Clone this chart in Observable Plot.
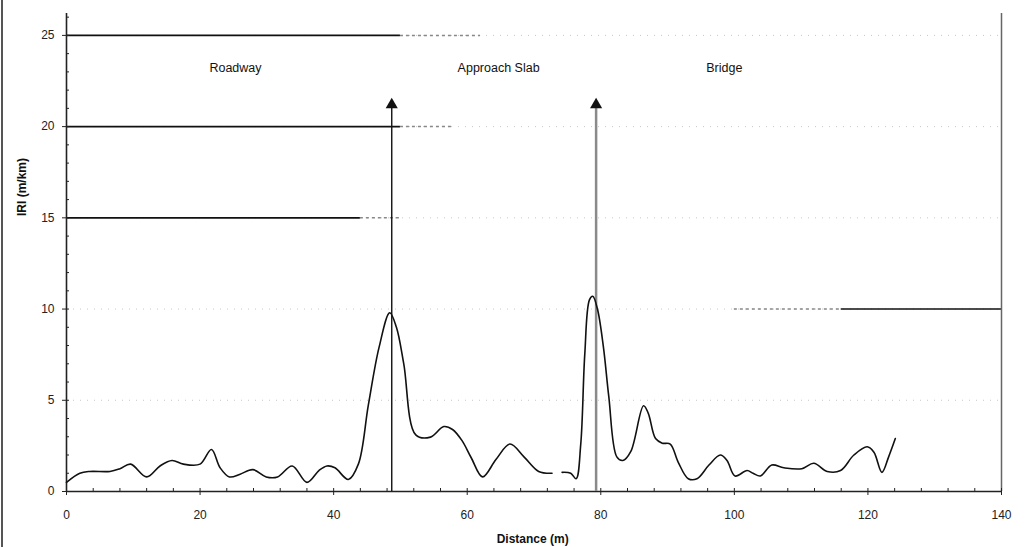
<!DOCTYPE html>
<html>
<head>
<meta charset="utf-8">
<script src="https://cdn.jsdelivr.net/npm/d3@7"></script>
<script src="https://cdn.jsdelivr.net/npm/@observablehq/plot@0.6"></script>
<style>
  body { margin: 0; background: #fff; }
  #wrap { position: relative; width: 1034px; height: 547px; }
  #edge { position: absolute; left: 1px; top: 0; width: 2px; height: 547px; background: #555; }
  svg { font-family: "Liberation Sans", Arial, sans-serif; }
</style>
</head>
<body>
<div id="wrap"><div id="edge"></div></div>
<script>
// Curve: distance (m) and IRI (m/km), two separate runs (gap near 73 m)
const dist1 = [0, 2, 3.5, 6.5, 8, 9.6, 12, 14, 15.8, 17.5, 20, 21.7, 23, 24.4, 26, 27.9, 29.9, 31.6, 33.8, 36, 37.8, 39, 40.2, 42.2, 43.7, 45.2, 46.8, 48.4, 49.4, 50.5, 52.3, 54.5, 56.5, 57.8, 59.2, 60.6, 62.3, 64.3, 66.4, 68.5, 70.7, 72.7];
const iri1  = [0.5, 1.0, 1.1, 1.1, 1.25, 1.5, 0.8, 1.4, 1.7, 1.5, 1.5, 2.3, 1.3, 0.8, 0.95, 1.2, 0.8, 0.8, 1.4, 0.5, 1.15, 1.4, 1.3, 0.66, 1.5, 4.75, 7.9, 9.8, 9.0, 7.0, 3.1, 2.98, 3.56, 3.4, 2.8, 1.85, 0.8, 1.75, 2.6, 1.9, 1.1, 1.0];
const dist2 = [74.2, 75.5, 76.3, 77.0, 77.6, 78.3, 78.8, 79.5, 80.4, 81.2, 82.4, 83.3, 84.5, 86.4, 87.1, 88.2, 89.2, 90.4, 91.6, 93.1, 94.4, 96.2, 97.9, 98.9, 100.1, 101.9, 102.8, 103.9, 105.6, 107.4, 110.1, 111.9, 113.9, 115.9, 117.9, 119.9, 120.9, 122.1, 123.1, 124.1];
const iri2  = [1.05, 1.0, 0.7, 2.6, 7.5, 10.5, 10.7, 10.0, 7.9, 5.2, 1.9, 1.7, 2.2, 4.7, 4.3, 2.9, 2.65, 2.6, 1.6, 0.7, 0.7, 1.45, 2.0, 1.7, 0.85, 1.15, 1.0, 0.85, 1.45, 1.3, 1.25, 1.55, 1.1, 1.15, 2.0, 2.45, 2.15, 1.05, 1.9, 2.9];

// Section labels
const sectionNames = ["Roadway", "Approach Slab", "Bridge"];
const sectionX = [25.3, 64.7, 98.5];
const sectionY = 23.2;

// Boundary arrows (distance of the transitions)
const arrowX = [48.7, 79.3];
const arrowTop = 21.2;

// Tick labels
const xTicks = [0, 20, 40, 60, 80, 100, 120, 140];
const yTicks = [0, 5, 10, 15, 20, 25];
const xMinor = d3.range(0, 141, 4);
const yMinor = d3.range(0, 27, 1);

// Grid lines, as they survive in the scan
const gridSolid = [{y: 25, x1: 0, x2: 50}, {y: 20, x1: 0, x2: 50}, {y: 15, x1: 0, x2: 44}, {y: 10, x1: 116, x2: 140}];
const gridFade  = [{y: 25, x1: 50, x2: 62}, {y: 20, x1: 50, x2: 58}, {y: 15, x1: 44, x2: 50}, {y: 10, x1: 100, x2: 116}];

const curve = [
  ...dist1.map((d, i) => ({x: d, y: iri1[i], seg: "a"})),
  ...dist2.map((d, i) => ({x: d, y: iri2[i], seg: "b"}))
];
const sections = sectionNames.map((n, i) => ({name: n, x: sectionX[i], y: sectionY}));

const chart = Plot.plot({
  width: 1034,
  height: 547,
  marginLeft: 66,
  marginRight: 33,
  marginTop: 13,
  marginBottom: 56,
  x: {domain: [0, 140]},
  y: {domain: [0, 26.2]},
  style: {fontFamily: "Liberation Sans, Arial, sans-serif", fontSize: "12px", color: "#222"},
  marks: [
    Plot.ruleY(yTicks.filter(t => t > 0), {stroke: "#c8c8c8", strokeDasharray: "1,6"}),
    Plot.ruleY(gridFade, {y: "y", x1: "x1", x2: "x2", stroke: "#888", strokeDasharray: "3,3", strokeWidth: 1.5}),
    Plot.ruleY(gridSolid, {y: "y", x1: "x1", x2: "x2", stroke: "#111", strokeWidth: 1.6}),
    Plot.ruleX([0], {stroke: "#222", strokeWidth: 1.6}),
    Plot.ruleX([140], {stroke: "#666", strokeWidth: 1.5}),
    Plot.ruleY([0], {stroke: "#222", strokeWidth: 1.6}),
    Plot.axisX({ticks: xTicks, tickSize: 4, tickPadding: 15, label: null, fontSize: 12, style: {letterSpacing: "0.8px"}}),
    Plot.axisX({ticks: xMinor, tickSize: -3, tickFormat: () => "", label: null}),
    Plot.axisY({ticks: yTicks, tickSize: 4, tickPadding: 8, label: null, fontSize: 12, style: {letterSpacing: "0.8px"}}),
    Plot.axisY({ticks: yMinor, tickSize: -3, tickFormat: () => "", label: null}),
    Plot.ruleX([arrowX[0]], {y1: 0, y2: arrowTop, stroke: "#111", strokeWidth: 1.4}),
    Plot.ruleX([arrowX[1]], {y1: 0, y2: arrowTop, stroke: "#8a8a8a", strokeWidth: 2.5}),
    Plot.dot(arrowX, {x: d => d, y: arrowTop, symbol: "triangle", r: 4.5, fill: "#111", stroke: "none"}),
    Plot.line(curve, {x: "x", y: "y", z: "seg", curve: "catmull-rom", stroke: "#111", strokeWidth: 1.6}),
    Plot.text(sections, {x: "x", y: "y", text: "name", fontSize: 12.5, fill: "#111", style: {letterSpacing: "1.3px"}}),
    Plot.text(["Distance (m)"], {x: 69.8, frameAnchor: "bottom", dy: 51, fontSize: 12, fontWeight: "bold", fill: "#111", style: {letterSpacing: "1.5px"}}),
    Plot.text(["IRI (m/km)"], {y: 15.1, frameAnchor: "left", dx: -44, rotate: -90, fontSize: 12, fontWeight: "bold", fill: "#111", style: {letterSpacing: "1.5px"}})
  ]
});
document.getElementById("wrap").appendChild(chart);
</script>
</body>
</html>
